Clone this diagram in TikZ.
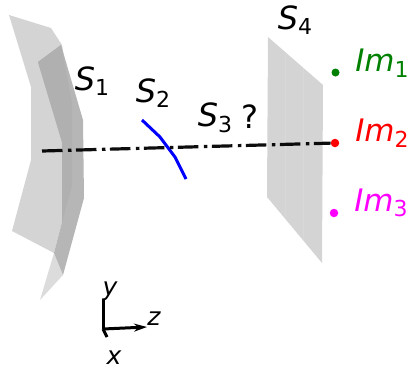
\documentclass[tikz,border=0pt]{standalone}
\usepackage{fontspec}
\setmainfont{DejaVu Sans}
\usetikzlibrary{arrows.meta}
\definecolor{lightS}{HTML}{D4D4D4}
\definecolor{darkS}{HTML}{B6B6B6}
\definecolor{overS}{HTML}{B0B0B0}
\definecolor{tipS}{HTML}{DCDCDC}
\definecolor{seam}{HTML}{D8D8D8}
\definecolor{imgreen}{HTML}{008000}
\definecolor{immag}{HTML}{FF00FF}
\definecolor{imred}{HTML}{FF0000}
\definecolor{imblue}{HTML}{0000FF}
\tikzset{
  lab/.style={inner sep=0pt,font=\fontsize{32}{32}\selectfont\itshape},
  imlab/.style={inner sep=0pt,font=\fontsize{31}{31}\selectfont\itshape},
  axlab/.style={inner sep=0pt,font=\fontsize{25}{25}\selectfont\itshape},
  dot/.style={circle,inner sep=0pt,minimum size=8.5pt,fill=#1},
  ray/.style={line width=3.2pt,black,opacity=.95,dash pattern=on 20.5pt off 5.5pt on 3.5pt off 4.5pt},
  axis/.style={line width=3pt,black},
}
\newcommand{\Lab}[2]{#1\raisebox{-5.5pt}{\normalfont\fontsize{22}{22}\selectfont #2}}
\begin{document}
\begin{tikzpicture}[x=1pt,y=-1pt]
\useasboundingbox (0,0) rectangle (409,370);
% S1
\fill[lightS] (9,15) -- (51,28) -- (62,45) -- (72,103) -- (72,170) -- (62,222) -- (54,253) -- (12,231) -- (31,160) -- (31,87) -- cycle;
\fill[tipS] (54,253) -- (63,275) -- (40,300) -- cycle;
\fill[darkS] (38,62) -- (61,45) -- (83,120) -- (84,198) -- (63,275) -- (54,253) -- (62,222) -- (62,142) -- cycle;
\fill[overS] (38,62) -- (61,45) -- (72,103) -- (72,186) -- (62,222) -- (62,142) -- cycle;
% S4
\fill[lightS] (268,37) -- (323,85) -- (322,263) -- (267,197) -- cycle;
\draw[seam,line width=.4pt] (285,52) -- (285,217) (303,68) -- (303,240);
% S2
\coordinate (s2a) at (142,120);
\coordinate (s2b) at (186,179);
\draw[imblue,line width=3pt] (s2a) -- (160,137) -- (175,157) -- (s2b);
% points
\node[dot=imgreen,minimum size=8pt] (p1) at (335.5,72.5) {};
\node[dot=imred] (p2) at (335,143) {};
\node[dot=immag] (p3) at (334,213) {};
% ray
\coordinate (r0) at (42,151);
\draw[ray] (r0) -- (p2);
% axes
\coordinate (o) at (103,329);
\coordinate (ay) at (103,300);
\coordinate (az) at (147,327);
\coordinate (ax) at (107,337);
\draw[axis] (o) -- (ay);
\draw[axis] (o) -- (ax);
\draw[axis,-{Stealth[length=13pt,width=8pt]}] (o) -- (az);
% labels
\node[lab] (S1) at (92,81) {\Lab{S}{1}};
\node[lab] (S2) at (153,93) {\Lab{S}{2}};
\node[lab] (S3) at (215,118) {\Lab{S}{3}};
\node[lab,font=\fontsize{32}{32}\selectfont] (Q) at (250,117) {?};
\node[lab] (S4) at (295,20) {\Lab{S}{4}};
\node[imlab,text=imgreen] (I1) at (382,63) {\Lab{Im}{1}};
\node[imlab,text=imred] (I2) at (382,133) {\Lab{Im}{2}};
\node[imlab,text=immag] (I3) at (381,203) {\Lab{Im}{3}};
\node[axlab] (ly) at (110,291) {y};
\node[axlab] (lz) at (154,319) {z};
\node[axlab] (lx) at (114,358) {x};
\end{tikzpicture}
\end{document}
